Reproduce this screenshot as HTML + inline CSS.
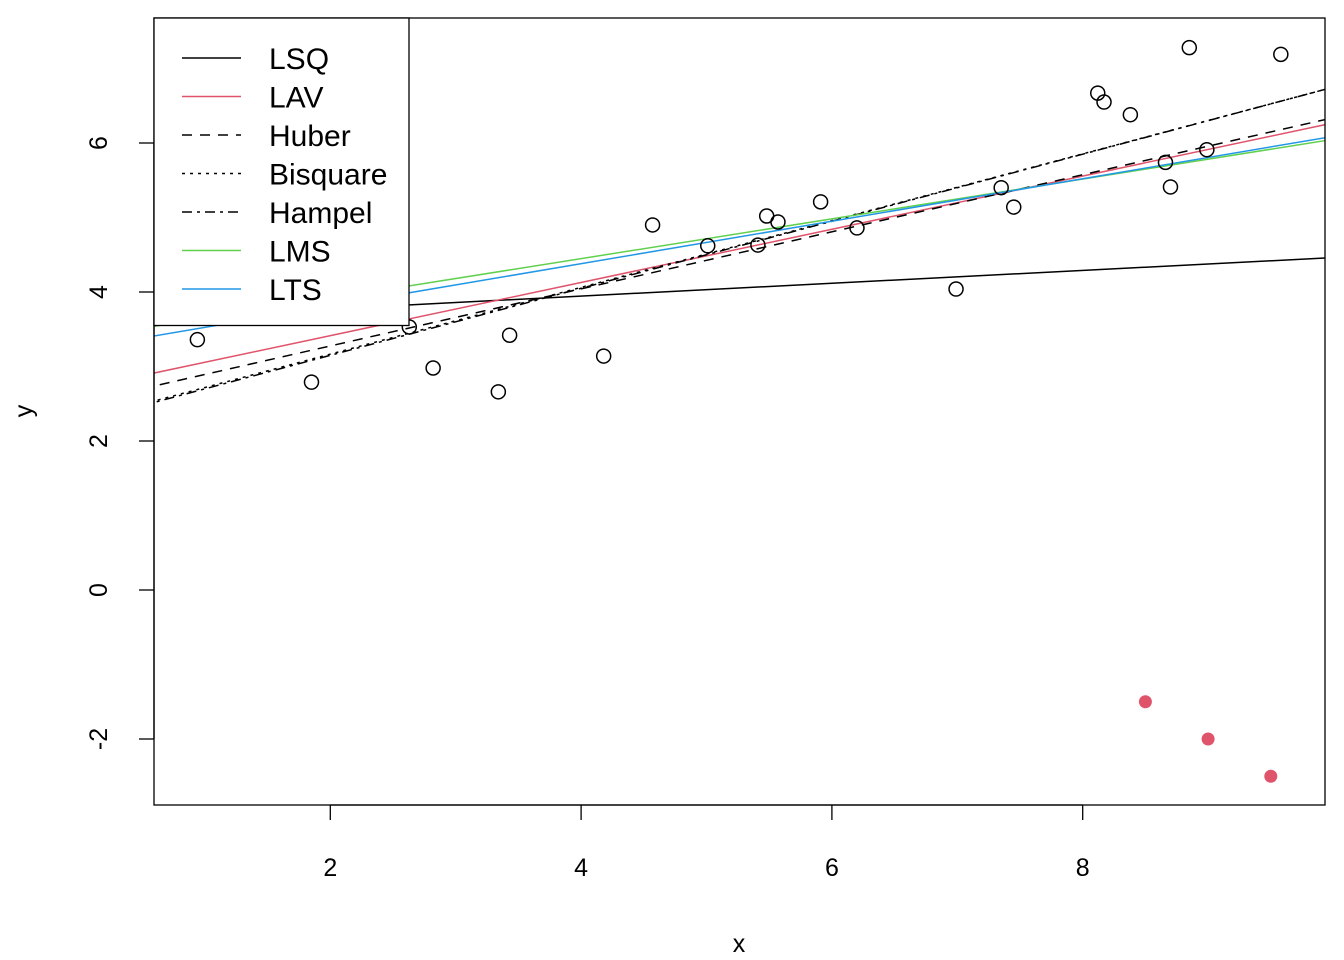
<!DOCTYPE html>
<html><head><meta charset="utf-8"><style>
body{margin:0;background:#fff}
svg{display:block;font-family:"Liberation Sans",Arial,sans-serif}
</style></head><body>
<svg id="chart" width="1344" height="960" xmlns="http://www.w3.org/2000/svg">
<defs><clipPath id="pc"><rect x="154" y="18" width="1171" height="787"/></clipPath></defs>
<g id="lines" clip-path="url(#pc)"></g>
<g id="pts"></g>
<rect x="154" y="18" width="1171" height="787" fill="none" stroke="#000" stroke-width="1.3"/>
<g id="axes"></g>
<text x="739" y="952" font-size="25" text-anchor="middle">x</text>
<text transform="translate(32,411) rotate(-90)" font-size="25" text-anchor="middle">y</text>
<g id="legend"></g>
</svg>
<script>
const methods=["LSQ","LAV","Huber","Bisquare","Hampel","LMS","LTS"];
const intercepts=[3.60,2.70,2.51,2.27,2.25,3.38,3.24];
const slopes=[0.0862,0.357,0.383,0.448,0.450,0.267,0.285];
const colors=["#000","#DF536B","#000","#000","#000","#61D04F","#2297E6"];
const dashes=["","","10,8","3,5","10,5,3,5","",""];
const ptsX=[0.94,1.85,2.63,2.82,3.34,3.43,4.18,4.57,5.01,5.41,5.48,5.57,5.91,6.20,6.99,7.35,7.45,8.12,8.17,8.38,8.66,8.70,8.85,8.99,9.58];
const ptsY=[3.36,2.79,3.53,2.98,2.66,3.42,3.14,4.90,4.62,4.63,5.02,4.94,5.21,4.86,4.04,5.40,5.14,6.67,6.55,6.38,5.74,5.41,7.28,5.91,7.19];
const outX=[8.5,9.0,9.5];
const outY=[-1.5,-2.0,-2.5];
const xTicks=[2,4,6,8];
const yTicks=[-2,0,2,4,6];
const NS="http://www.w3.org/2000/svg";
const sx=v=>79.5+125.4*v, sy=v=>590-74.5*v;
function mk(t,a,p){const e=document.createElementNS(NS,t);for(const k in a)e.setAttribute(k,a[k]);p.appendChild(e);return e;}
const L=document.getElementById('lines');
methods.forEach((m,i)=>{const x0=0.5,x1=10.2;
const l=mk('line',{x1:sx(x0),y1:sy(intercepts[i]+slopes[i]*x0),x2:sx(x1),y2:sy(intercepts[i]+slopes[i]*x1),stroke:colors[i],'stroke-width':1.5,'stroke-dasharray':dashes[i]},L);

});
const P=document.getElementById('pts');
ptsX.forEach((x,i)=>{const c=mk('circle',{cx:sx(x),cy:sy(ptsY[i]),r:7,fill:'none',stroke:'#000','stroke-width':1.5},P);

});
outX.forEach((x,i)=>{const c=mk('circle',{cx:sx(x),cy:sy(outY[i]),r:6.5,fill:'#DF536B'},P);

});
const A=document.getElementById('axes');
mk('line',{x1:sx(2),x2:sx(8),y1:805,y2:805,stroke:'#000','stroke-width':1.3},A);
xTicks.forEach(v=>{mk('line',{x1:sx(v),x2:sx(v),y1:805,y2:820,stroke:'#000','stroke-width':1.3},A);
const t=mk('text',{x:sx(v),y:876,'font-size':25,'text-anchor':'middle'},A);t.textContent=v;

});
mk('line',{x1:154,x2:154,y1:sy(-2),y2:sy(6),stroke:'#000','stroke-width':1.3},A);
yTicks.forEach(v=>{mk('line',{x1:139,x2:154,y1:sy(v),y2:sy(v),stroke:'#000','stroke-width':1.3},A);
const t=mk('text',{transform:`translate(107,${sy(v)}) rotate(-90)`,'font-size':25,'text-anchor':'middle'},A);t.textContent=v;

});
const G=document.getElementById('legend');
mk('rect',{x:154,y:18,width:255,height:307.5,fill:'#fff',stroke:'#000','stroke-width':1.3},G);
methods.forEach((m,i)=>{const y=58+38.5*i;
const l=mk('line',{x1:182,x2:241,y1:y,y2:y,stroke:colors[i],'stroke-width':1.5,'stroke-dasharray':dashes[i]},G);


const t=mk('text',{x:269,y:y+11,'font-size':30},G);t.textContent=m;

});
</script>
</body></html>
